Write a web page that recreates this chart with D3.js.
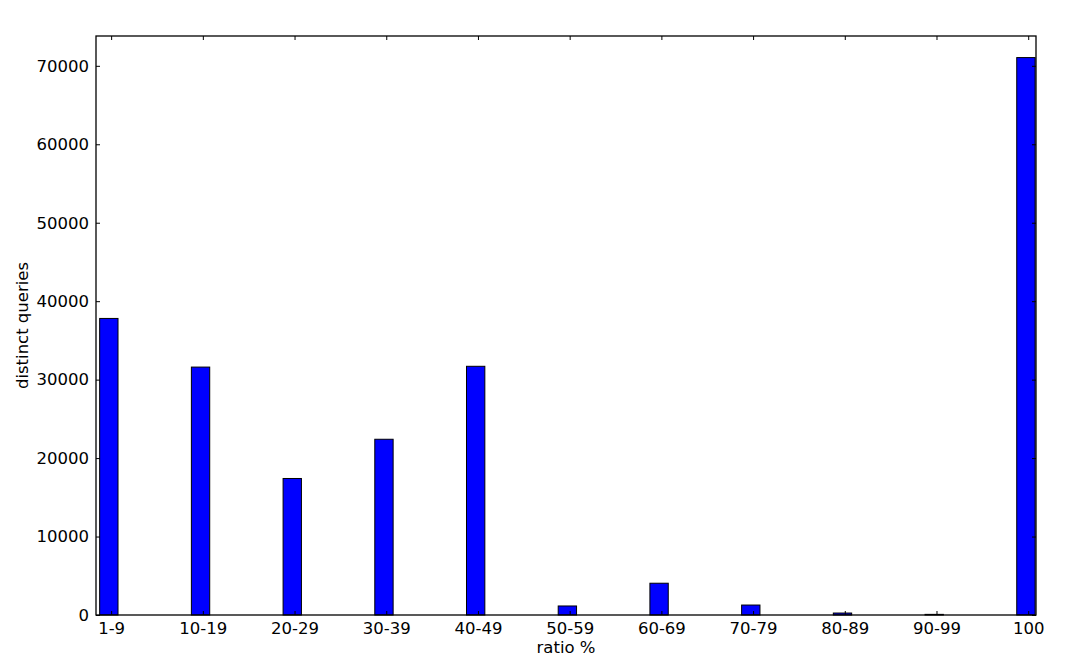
<!DOCTYPE html>
<html>
<head>
<meta charset="utf-8">
<script src="https://cdn.jsdelivr.net/npm/d3@7"></script>
<style>
  body { margin: 0; background: #fff; }
  svg text { font-family: "DejaVu Sans", sans-serif; font-size: 16.5px; fill: #000; }
</style>
</head>
<body>
<svg id="chart" width="1067" height="668"></svg>
<script>
// bins of match ratio and how many distinct queries fall in each
const categories = ['1-9', '10-19', '20-29', '30-39', '40-49', '50-59', '60-69', '70-79', '80-89', '90-99', '100'];
const queryCounts = [37800, 31600, 17400, 22400, 31700, 1150, 4050, 1270, 250, 80, 71050];
const yTicks = [0, 10000, 20000, 30000, 40000, 50000, 60000, 70000];

const margin = { top: 36, right: 31, bottom: 53, left: 96 };
const width = 1067 - margin.left - margin.right;
const height = 668 - margin.top - margin.bottom;
const barWidth = 0.2;
const tickOffset = 0.125;
const tickLen = 4;

const svg = d3.select('#chart')
    .append('g')
    .attr('transform', `translate(${margin.left}, ${margin.top})`);

const xScale = d3.scaleLinear().domain([-0.04, 10.21]).range([0, width]);
const yScale = d3.scaleLinear().domain([0, 73800]).range([height, 0]);

// bars
svg.append('g')
    .selectAll('rect')
    .data(queryCounts)
    .enter()
    .append('rect')
    .attr('x', (d, i) => xScale(i))
    .attr('y', (d) => yScale(d))
    .attr('width', xScale(barWidth) - xScale(0))
    .attr('height', (d) => yScale(0) - yScale(d))
    .style('fill', '#0000ff')
    .style('stroke', '#000')
    .style('stroke-width', 1);

// axes: ticks point inward on all four sides, like matplotlib classic
const xTickPos = categories.map((c, i) => i + tickOffset);
const xBottom = d3.axisBottom(xScale).tickValues(xTickPos)
    .tickFormat((d, i) => categories[i]).tickSizeInner(-tickLen).tickSizeOuter(0).tickPadding(7);
const xTop = d3.axisTop(xScale).tickValues(xTickPos)
    .tickFormat('').tickSizeInner(-tickLen).tickSizeOuter(0);
const yLeft = d3.axisLeft(yScale).tickValues(yTicks)
    .tickFormat(d3.format('d')).tickSizeInner(-tickLen).tickSizeOuter(0).tickPadding(7);
const yRight = d3.axisRight(yScale).tickValues(yTicks)
    .tickFormat('').tickSizeInner(-tickLen).tickSizeOuter(0);

svg.append('g').attr('class', 'x axis').attr('transform', `translate(0, ${height})`).call(xBottom);
svg.append('g').attr('class', 'x axis').call(xTop);
svg.append('g').attr('class', 'y axis').call(yLeft);
svg.append('g').attr('class', 'y axis').attr('transform', `translate(${width}, 0)`).call(yRight);

svg.selectAll('.axis .domain').remove();
svg.selectAll('.axis text').style('font-size', '16.5px').style('font-family', '"DejaVu Sans", sans-serif');
svg.selectAll('.axis line').attr('stroke', '#000');

// frame
svg.append('rect')
    .attr('x', 0)
    .attr('y', 0)
    .attr('width', width)
    .attr('height', height)
    .style('fill', 'none')
    .style('stroke', '#000')
    .style('stroke-width', 1.3);

svg.append('text')
    .attr('x', width / 2)
    .attr('y', height + 38)
    .style('text-anchor', 'middle')
    .text('ratio %');

svg.append('text')
    .attr('transform', 'rotate(-90)')
    .attr('x', -height / 2)
    .attr('y', -68)
    .style('text-anchor', 'middle')
    .text('distinct queries');
</script>
</body>
</html>
